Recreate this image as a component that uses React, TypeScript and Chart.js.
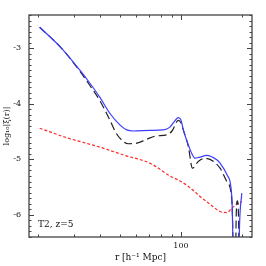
import React, { useEffect, useRef } from 'react';
import { Chart, registerables } from 'chart.js';

Chart.register(...registerables);

// Blue solid curve
const rBlue = [20.3, 26.0, 31.9, 35.8, 40.0, 44.8, 50.2, 54.2, 58.3, 70.5, 81.9, 88.3, 92.4, 97.0, 100.0, 102.7, 108.7, 112.9, 117.2, 124.1, 133.8, 149.8, 155.5, 169.5, 177.5, 179.7, 181.3, 190.4, 193.4, 198.7];
const logXiBlue = [-2.62, -3.0, -3.39, -3.63, -3.88, -4.17, -4.38, -4.47, -4.49, -4.48, -4.47, -4.42, -4.33, -4.25, -4.29, -4.47, -4.74, -4.89, -4.98, -4.96, -4.93, -5.01, -5.07, -5.3, -5.67, -6.5, -8.0, -8.0, -6.3, -5.61];

// Black long-dashed curve
const rBlack = [20.3, 26.0, 31.9, 35.8, 40.0, 44.8, 47.5, 50.2, 55.1, 60.8, 67.9, 75.4, 85.1, 90.4, 97.0, 100.0, 102.7, 108.7, 113.9, 121.6, 131.2, 155.5, 167.8, 177.5, 179.7, 181.5, 184.2, 186.4, 189.0, 191.7, 193.8, 196.6, 198.7];
const logXiBlack = [-2.62, -3.0, -3.41, -3.67, -3.94, -4.29, -4.49, -4.62, -4.72, -4.71, -4.64, -4.58, -4.56, -4.49, -4.3, -4.34, -4.47, -4.77, -5.16, -5.04, -4.98, -5.16, -5.4, -5.73, -6.4, -8.0, -8.0, -6.1, -5.75, -6.1, -8.0, -8.0, -6.5];

// Red short-dashed curve
const rRed = [20.3, 27.5, 40.0, 53.1, 70.5, 88.3, 98.9, 110.7, 124.1, 138.8, 155.5, 168.3, 177.5, 186.4, 198.7];
const logXiRed = [-4.44, -4.61, -4.78, -4.93, -5.07, -5.3, -5.39, -5.51, -5.67, -5.81, -5.94, -5.96, -5.88, -5.82, -5.76];

const xTickValues = [20, 30, 40, 50, 60, 70, 80, 90, 100, 200];
const xLabeledTicks = [100];
const yTickTenths = Array.from({ length: 41 }, (_, i) => -64 + i);
const xMin = 18;
const xMax = 223;
const yMin = -6.4;
const yMax = -2.4;
const annotation = 'T2, z=5';
const xTitle = 'r [h\u207B\u00B9 Mpc]';
const yTitle = 'log\u2081\u2080|\u03BE(r)|';

const FONT = 'DejaVu Serif';

const isInt = (v: number) => Math.abs(v - Math.round(v)) < 1e-6;

export default function App() {
  const ref = useRef<HTMLCanvasElement>(null);
  useEffect(() => {
    const canvas = ref.current;
    if (!canvas) return;
    const framePlugin = {
      id: 'frame',
      afterDatasetsDraw(chart: any) {
        const { ctx, chartArea: a, scales } = chart;
        ctx.save();
        ctx.strokeStyle = '#444';
        ctx.lineWidth = 1.3;
        ctx.strokeRect(a.left, a.top, a.right - a.left, a.bottom - a.top);
        ctx.lineWidth = 1;
        ctx.beginPath();
        for (const v of xTickValues) {
          const x = Math.round(scales.x.getPixelForValue(v)) + 0.5;
          const len = xLabeledTicks.includes(v) ? 5 : 2.5;
          ctx.moveTo(x, a.bottom);
          ctx.lineTo(x, a.bottom - len);
          ctx.moveTo(x, a.top);
          ctx.lineTo(x, a.top + len);
        }
        for (const t of yTickTenths) {
          const v = t / 10;
          const y = Math.round(scales.y.getPixelForValue(v)) + 0.5;
          const len = t % 10 === 0 ? 5 : 2.5;
          ctx.moveTo(a.left, y);
          ctx.lineTo(a.left + len, y);
          ctx.moveTo(a.right, y);
          ctx.lineTo(a.right - len, y);
        }
        ctx.stroke();
        ctx.fillStyle = '#111';
        ctx.font = `9px "${FONT}"`;
        ctx.textBaseline = 'alphabetic';
        ctx.textAlign = 'left';
        ctx.fillText(annotation, a.left + 9, a.bottom - 10.5);
        ctx.restore();
      },
    };
    const chart = new Chart(canvas, {
      type: 'line',
      data: {
        datasets: [
          {
            data: rBlue.map((r, i) => ({ x: r, y: logXiBlue[i] })),
            borderColor: '#3c3cff',
            borderWidth: 1.2,
            pointRadius: 0,
            cubicInterpolationMode: 'monotone',
          },
          {
            data: rBlack.map((r, i) => ({ x: r, y: logXiBlack[i] })),
            borderColor: '#222',
            borderWidth: 1.2,
            borderDash: [8, 4],
            pointRadius: 0,
            cubicInterpolationMode: 'monotone',
          },
          {
            data: rRed.map((r, i) => ({ x: r, y: logXiRed[i] })),
            borderColor: '#ff2a2a',
            borderWidth: 1.2,
            borderDash: [3, 2],
            pointRadius: 0,
            cubicInterpolationMode: 'monotone',
          },
        ],
      },
      options: {
        responsive: false,
        animation: false,
        events: [],
        layout: { padding: { top: 15, right: 14, left: 0, bottom: 0 } },
        plugins: { legend: { display: false }, tooltip: { enabled: false } },
        scales: {
          x: {
            type: 'logarithmic',
            min: xMin,
            max: xMax,
            grid: { display: false, drawTicks: false },
            border: { display: false },
            afterBuildTicks: (s: any) => {
              s.ticks = xTickValues.map((v) => ({ value: v }));
            },
            afterFit: (s: any) => {
              s.height = 29;
            },
            ticks: {
              autoSkip: false,
              maxRotation: 0,
              padding: 4,
              color: '#111',
              font: { family: FONT, size: 8 },
              callback: (v: any) => (xLabeledTicks.includes(Number(v)) ? String(v) : ''),
            },
            title: {
              display: true,
              text: xTitle,
              color: '#111',
              font: { family: FONT, size: 9 },
              padding: { top: 0, bottom: 3 },
            },
          },
          y: {
            type: 'linear',
            min: yMin,
            max: yMax,
            grid: { display: false, drawTicks: false },
            border: { display: false },
            afterBuildTicks: (s: any) => {
              s.ticks = yTickTenths.map((t) => ({ value: t / 10 }));
            },
            afterFit: (s: any) => {
              s.width = 29;
            },
            ticks: {
              autoSkip: false,
              padding: 8,
              color: '#111',
              font: { family: FONT, size: 8 },
              callback: (v: any) => {
                const n = Number(v);
                return isInt(n) ? '-' + Math.abs(Math.round(n)) : '';
              },
            },
            title: {
              display: true,
              text: yTitle,
              color: '#111',
              font: { family: FONT, size: 8 },
              padding: { top: 2, bottom: 0 },
            },
          },
        },
      },
      plugins: [framePlugin],
    } as any);
    return () => chart.destroy();
  }, []);
  return (
    <div style={{ position: 'fixed', left: 0, top: 0, width: 266, height: 266, background: '#fff' }}>
      <canvas ref={ref} width={266} height={266} style={{ width: 266, height: 266, display: 'block' }} />
    </div>
  );
}
